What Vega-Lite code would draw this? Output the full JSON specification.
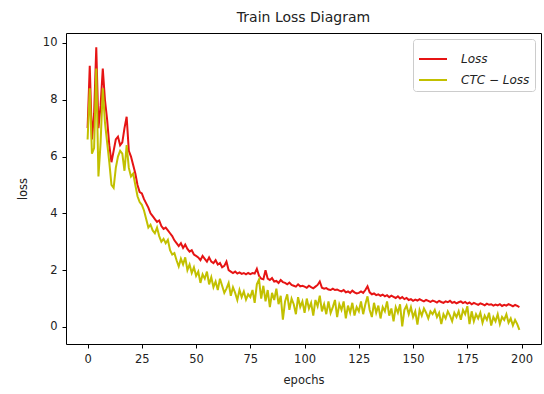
{
  "$schema": "https://vega.github.io/schema/vega-lite/v6.json",
  "autosize": {"type": "none"},
  "padding": {"left": 66, "top": 33, "right": 3, "bottom": 49},
  "width": 475,
  "height": 311,
  "title": {"text": "Train Loss Diagram", "fontSize": 14, "font": "DejaVu Sans", "fontWeight": "normal", "color": "#222", "offset": 8},
  "data": {"values": [
{"epoch":0,"Loss":7.0,"CTC":6.6},{"epoch":1,"Loss":9.2,"CTC":8.4},{"epoch":2,"Loss":6.6,"CTC":6.1},{"epoch":3,"Loss":7.5,"CTC":6.3},{"epoch":4,"Loss":9.85,"CTC":9.1},
{"epoch":5,"Loss":7.0,"CTC":5.3},{"epoch":6,"Loss":7.8,"CTC":6.5},{"epoch":7,"Loss":9.1,"CTC":8.4},{"epoch":8,"Loss":8.0,"CTC":7.2},{"epoch":9,"Loss":7.3,"CTC":6.5},
{"epoch":10,"Loss":6.4,"CTC":5.8},{"epoch":11,"Loss":5.8,"CTC":5.0},{"epoch":12,"Loss":6.2,"CTC":4.9},{"epoch":13,"Loss":6.6,"CTC":5.6},{"epoch":14,"Loss":6.7,"CTC":6.0},
{"epoch":15,"Loss":6.4,"CTC":6.2},{"epoch":16,"Loss":6.5,"CTC":6.1},{"epoch":17,"Loss":7.0,"CTC":5.5},{"epoch":18,"Loss":7.4,"CTC":6.4},{"epoch":19,"Loss":6.2,"CTC":5.6},
{"epoch":20,"Loss":6.0,"CTC":5.3},{"epoch":21,"Loss":5.7,"CTC":5.4},{"epoch":22,"Loss":5.4,"CTC":5.0},{"epoch":23,"Loss":5.0,"CTC":4.6},{"epoch":24,"Loss":4.75,"CTC":4.4},
{"epoch":25,"Loss":4.7,"CTC":4.3},{"epoch":26,"Loss":4.5,"CTC":4.1},{"epoch":27,"Loss":4.35,"CTC":3.8},{"epoch":28,"Loss":4.2,"CTC":3.5},{"epoch":29,"Loss":4.0,"CTC":3.6},
{"epoch":30,"Loss":3.9,"CTC":3.4},{"epoch":31,"Loss":3.8,"CTC":3.3},{"epoch":32,"Loss":3.7,"CTC":3.5},{"epoch":33,"Loss":3.75,"CTC":3.2},{"epoch":34,"Loss":3.55,"CTC":3.0},
{"epoch":35,"Loss":3.45,"CTC":3.1},{"epoch":36,"Loss":3.5,"CTC":2.95},{"epoch":37,"Loss":3.4,"CTC":3.07},{"epoch":38,"Loss":3.3,"CTC":2.7},{"epoch":39,"Loss":3.2,"CTC":2.55},
{"epoch":40,"Loss":3.05,"CTC":2.6},{"epoch":41,"Loss":2.95,"CTC":2.35},{"epoch":42,"Loss":2.85,"CTC":2.13},{"epoch":43,"Loss":2.95,"CTC":2.4},{"epoch":44,"Loss":2.78,"CTC":2.2},
{"epoch":45,"Loss":2.9,"CTC":2.45},{"epoch":46,"Loss":2.75,"CTC":2.0},{"epoch":47,"Loss":2.65,"CTC":2.2},{"epoch":48,"Loss":2.7,"CTC":1.9},{"epoch":49,"Loss":2.55,"CTC":2.1},
{"epoch":50,"Loss":2.5,"CTC":1.8},{"epoch":51,"Loss":2.45,"CTC":1.95},{"epoch":52,"Loss":2.35,"CTC":1.55},{"epoch":53,"Loss":2.5,"CTC":1.85},{"epoch":54,"Loss":2.4,"CTC":1.7},
{"epoch":55,"Loss":2.3,"CTC":1.95},{"epoch":56,"Loss":2.45,"CTC":1.5},{"epoch":57,"Loss":2.3,"CTC":1.75},{"epoch":58,"Loss":2.25,"CTC":1.4},{"epoch":59,"Loss":2.35,"CTC":1.6},
{"epoch":60,"Loss":2.2,"CTC":1.3},{"epoch":61,"Loss":2.25,"CTC":1.7},{"epoch":62,"Loss":2.1,"CTC":1.45},{"epoch":63,"Loss":2.15,"CTC":1.2},{"epoch":64,"Loss":2.3,"CTC":1.35},
{"epoch":65,"Loss":2.0,"CTC":1.55},{"epoch":66,"Loss":1.95,"CTC":1.1},{"epoch":67,"Loss":1.9,"CTC":1.4},{"epoch":68,"Loss":1.95,"CTC":1.2},{"epoch":69,"Loss":1.88,"CTC":0.95},
{"epoch":70,"Loss":1.92,"CTC":1.3},{"epoch":71,"Loss":1.87,"CTC":1.05},{"epoch":72,"Loss":1.9,"CTC":1.25},{"epoch":73,"Loss":1.85,"CTC":0.96},{"epoch":74,"Loss":1.9,"CTC":1.15},
{"epoch":75,"Loss":1.86,"CTC":1.05},{"epoch":76,"Loss":1.9,"CTC":1.3},{"epoch":77,"Loss":1.88,"CTC":0.85},{"epoch":78,"Loss":2.05,"CTC":1.5},{"epoch":79,"Loss":1.8,"CTC":1.67},
{"epoch":80,"Loss":1.7,"CTC":1.0},{"epoch":81,"Loss":1.68,"CTC":1.45},{"epoch":82,"Loss":2.0,"CTC":0.9},{"epoch":83,"Loss":1.7,"CTC":1.3},{"epoch":84,"Loss":1.65,"CTC":0.7},
{"epoch":85,"Loss":1.72,"CTC":1.2},{"epoch":86,"Loss":1.6,"CTC":0.95},{"epoch":87,"Loss":1.62,"CTC":1.35},{"epoch":88,"Loss":1.55,"CTC":0.8},{"epoch":89,"Loss":1.65,"CTC":1.1},
{"epoch":90,"Loss":1.58,"CTC":0.26},{"epoch":91,"Loss":1.55,"CTC":0.9},{"epoch":92,"Loss":1.5,"CTC":1.15},{"epoch":93,"Loss":1.56,"CTC":0.6},{"epoch":94,"Loss":1.48,"CTC":1.0},
{"epoch":95,"Loss":1.45,"CTC":0.8},{"epoch":96,"Loss":1.42,"CTC":0.45},{"epoch":97,"Loss":1.5,"CTC":1.05},{"epoch":98,"Loss":1.43,"CTC":0.7},{"epoch":99,"Loss":1.45,"CTC":0.9},
{"epoch":100,"Loss":1.42,"CTC":0.5},{"epoch":101,"Loss":1.38,"CTC":1.0},{"epoch":102,"Loss":1.45,"CTC":0.65},{"epoch":103,"Loss":1.4,"CTC":0.85},{"epoch":104,"Loss":1.36,"CTC":0.4},
{"epoch":105,"Loss":1.42,"CTC":0.95},{"epoch":106,"Loss":1.48,"CTC":0.73},{"epoch":107,"Loss":1.6,"CTC":1.1},{"epoch":108,"Loss":1.38,"CTC":0.55},{"epoch":109,"Loss":1.35,"CTC":0.8},
{"epoch":110,"Loss":1.37,"CTC":0.45},{"epoch":111,"Loss":1.32,"CTC":0.9},{"epoch":112,"Loss":1.3,"CTC":0.49},{"epoch":113,"Loss":1.35,"CTC":0.7},{"epoch":114,"Loss":1.3,"CTC":0.95},
{"epoch":115,"Loss":1.32,"CTC":0.35},{"epoch":116,"Loss":1.28,"CTC":0.8},{"epoch":117,"Loss":1.25,"CTC":0.6},{"epoch":118,"Loss":1.3,"CTC":0.9},{"epoch":119,"Loss":1.22,"CTC":0.3},
{"epoch":120,"Loss":1.25,"CTC":0.75},{"epoch":121,"Loss":1.2,"CTC":0.5},{"epoch":122,"Loss":1.28,"CTC":0.85},{"epoch":123,"Loss":1.22,"CTC":0.4},{"epoch":124,"Loss":1.18,"CTC":0.7},
{"epoch":125,"Loss":1.2,"CTC":0.55},{"epoch":126,"Loss":1.25,"CTC":0.9},{"epoch":127,"Loss":1.2,"CTC":0.45},{"epoch":128,"Loss":1.3,"CTC":0.8},{"epoch":129,"Loss":1.43,"CTC":1.08},
{"epoch":130,"Loss":1.22,"CTC":0.6},{"epoch":131,"Loss":1.15,"CTC":0.35},{"epoch":132,"Loss":1.18,"CTC":0.85},{"epoch":133,"Loss":1.12,"CTC":0.5},{"epoch":134,"Loss":1.15,"CTC":0.75},
{"epoch":135,"Loss":1.1,"CTC":0.3},{"epoch":136,"Loss":1.14,"CTC":0.7},{"epoch":137,"Loss":1.08,"CTC":0.55},{"epoch":138,"Loss":1.12,"CTC":0.9},{"epoch":139,"Loss":1.05,"CTC":0.4},
{"epoch":140,"Loss":1.1,"CTC":0.65},{"epoch":141,"Loss":1.06,"CTC":0.2},{"epoch":142,"Loss":1.02,"CTC":0.7},{"epoch":143,"Loss":1.08,"CTC":0.5},{"epoch":144,"Loss":1.0,"CTC":0.8},
{"epoch":145,"Loss":1.05,"CTC":0.02},{"epoch":146,"Loss":0.98,"CTC":0.6},{"epoch":147,"Loss":1.02,"CTC":0.75},{"epoch":148,"Loss":0.95,"CTC":0.45},{"epoch":149,"Loss":0.98,"CTC":0.7},
{"epoch":150,"Loss":0.92,"CTC":0.35},{"epoch":151,"Loss":0.96,"CTC":0.55},{"epoch":152,"Loss":0.93,"CTC":0.08},{"epoch":153,"Loss":0.98,"CTC":0.6},{"epoch":154,"Loss":0.94,"CTC":0.4},
{"epoch":155,"Loss":0.9,"CTC":0.65},{"epoch":156,"Loss":0.95,"CTC":0.5},{"epoch":157,"Loss":0.92,"CTC":0.3},{"epoch":158,"Loss":0.88,"CTC":0.55},{"epoch":159,"Loss":0.93,"CTC":0.45},
{"epoch":160,"Loss":0.9,"CTC":0.6},{"epoch":161,"Loss":0.86,"CTC":0.35},{"epoch":162,"Loss":0.92,"CTC":0.5},{"epoch":163,"Loss":0.88,"CTC":0.1},{"epoch":164,"Loss":0.85,"CTC":0.45},
{"epoch":165,"Loss":0.9,"CTC":0.3},{"epoch":166,"Loss":0.87,"CTC":0.55},{"epoch":167,"Loss":0.92,"CTC":0.4},{"epoch":168,"Loss":0.85,"CTC":0.2},{"epoch":169,"Loss":0.88,"CTC":0.5},
{"epoch":170,"Loss":0.83,"CTC":0.35},{"epoch":171,"Loss":0.87,"CTC":0.55},{"epoch":172,"Loss":0.9,"CTC":0.25},{"epoch":173,"Loss":0.84,"CTC":0.6},{"epoch":174,"Loss":0.88,"CTC":0.45},
{"epoch":175,"Loss":0.82,"CTC":0.73},{"epoch":176,"Loss":0.86,"CTC":0.1},{"epoch":177,"Loss":0.8,"CTC":0.55},{"epoch":178,"Loss":0.85,"CTC":0.2},{"epoch":179,"Loss":0.81,"CTC":0.45},
{"epoch":180,"Loss":0.78,"CTC":0.3},{"epoch":181,"Loss":0.83,"CTC":0.5},{"epoch":182,"Loss":0.8,"CTC":0.15},{"epoch":183,"Loss":0.76,"CTC":0.4},{"epoch":184,"Loss":0.82,"CTC":0.25},
{"epoch":185,"Loss":0.78,"CTC":0.5},{"epoch":186,"Loss":0.8,"CTC":0.05},{"epoch":187,"Loss":0.75,"CTC":0.35},{"epoch":188,"Loss":0.79,"CTC":0.2},{"epoch":189,"Loss":0.76,"CTC":0.45},
{"epoch":190,"Loss":0.8,"CTC":0.1},{"epoch":191,"Loss":0.74,"CTC":0.35},{"epoch":192,"Loss":0.78,"CTC":0.25},{"epoch":193,"Loss":0.75,"CTC":0.45},{"epoch":194,"Loss":0.8,"CTC":0.15},
{"epoch":195,"Loss":0.77,"CTC":0.3},{"epoch":196,"Loss":0.73,"CTC":0.05},{"epoch":197,"Loss":0.78,"CTC":0.25},{"epoch":198,"Loss":0.74,"CTC":0.1},{"epoch":199,"Loss":0.7,"CTC":-0.1}
  ]},
  "encoding": {
    "x": {"field": "epoch", "type": "quantitative",
      "scale": {"domain": [-9.95, 208.95], "nice": false, "zero": false},
      "axis": {"values": [0, 25, 50, 75, 100, 125, 150, 175, 200], "title": "epochs", "titlePadding": 10, "labelPadding": 5}}
  },
  "layer": [
    {"mark": {"type": "line", "strokeWidth": 2, "clip": true},
     "encoding": {
       "y": {"field": "Loss", "type": "quantitative",
         "scale": {"domain": [-0.6, 10.35], "nice": false, "zero": false},
         "axis": {"values": [0, 2, 4, 6, 8, 10], "title": "loss", "titlePadding": 14, "labelPadding": 5}},
       "color": {"datum": "Loss", "type": "nominal",
         "scale": {"domain": ["Loss", "CTC − Loss"], "range": ["#e61414", "#c2c000"]},
         "legend": {"title": null, "orient": "top-right", "offset": 6, "symbolType": "stroke", "symbolSize": 784, "symbolStrokeWidth": 2,
           "labelFontStyle": "italic", "labelFontSize": 12, "labelFont": "DejaVu Sans", "labelColor": "#222", "labelOffset": 13, "rowPadding": -6,
           "strokeColor": "#cccccc", "fillColor": "#ffffff", "cornerRadius": 3, "padding": 5}}
     }},
    {"mark": {"type": "line", "strokeWidth": 2, "clip": true},
     "encoding": {
       "y": {"field": "CTC", "type": "quantitative", "axis": {"values": [0, 2, 4, 6, 8, 10], "title": "loss", "titlePadding": 14, "labelPadding": 5}},
       "color": {"datum": "CTC − Loss", "type": "nominal"}
     }}
  ],
  "config": {
    "view": {"stroke": "#000000", "strokeWidth": 1},
    "axis": {"grid": false, "domain": false, "tickColor": "#000", "tickSize": 4, "labelColor": "#222", "labelFontSize": 11.5, "labelFont": "DejaVu Sans",
      "titleFont": "DejaVu Sans", "titleFontSize": 11.5, "titleFontWeight": "normal", "titleColor": "#222"}
  }
}
